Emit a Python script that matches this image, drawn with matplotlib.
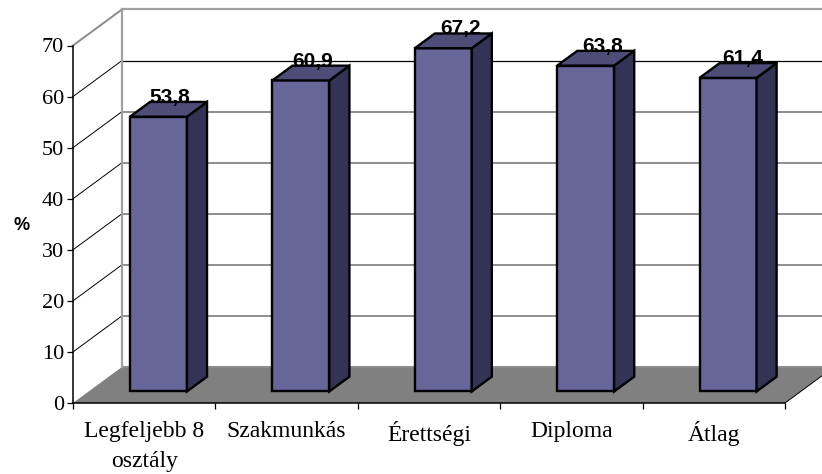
import matplotlib
matplotlib.use("Agg")
import matplotlib.pyplot as plt
from matplotlib.patches import Polygon

categories = ['Legfeljebb 8\nosztály', 'Szakmunkás', 'Érettségi', 'Diploma', 'Átlag']
values = [53.8, 60.9, 67.2, 63.8, 61.4]
labels = ['53,8', '60,9', '67,2', '63,8', '61,4']
yticks = [0, 10, 20, 30, 40, 50, 60, 70]

W, H = 822, 474
# depth of the fake 3d box, in data units
DX = 49 / 142.4
DY = 36 / 5.1

fig = plt.figure(figsize=(W / 100, H / 100), dpi=100)
ax = fig.add_axes([73 / W, 1 - 403 / H, 712 / W, 357.5 / H])
ax.set_xlim(0, 5)
ax.set_ylim(0, 70)


def proj(x, y, d=0.0):
    return (x + DX * d, y + DY * d)


def poly(pts, fc, ec='none', lw=0, z=1):
    ax.add_patch(Polygon(pts, closed=True, facecolor=fc, edgecolor=ec, linewidth=lw,
                         joinstyle='miter', clip_on=False, zorder=z))


def line(a, b, color, lw, z=2):
    ax.plot([a[0], b[0]], [a[1], b[1]], color=color, lw=lw, clip_on=False, zorder=z,
            solid_capstyle='projecting')


xr = 5.26  # back wall runs off the figure edge

# floor
poly([proj(0, 0), proj(5, 0), proj(5, 0, 1), proj(xr, 0, 1), proj(0, 0, 1)], '#808080', z=1)

# grid on wall and side wall
for v in yticks[1:-1]:
    c = 'black' if v >= 60 else '#707070'
    lw = 0.9 if v >= 60 else 1.1
    line(proj(0, v), proj(0, v, 1), 'black', 0.7)
    line(proj(0, v, 1), proj(xr, v, 1), c, lw)
line(proj(0, 0, 1), proj(xr, 0, 1), '#8c8c8c', 1.4)
line(proj(0, 70), proj(0, 70, 1), '#8c8c8c', 1.4)
line(proj(0, 70, 1), proj(xr, 70, 1), '#a0a0a0', 1.6)
line(proj(0, 0, 1), proj(0, 70, 1), '#a0a0a0', 1.6)
line(proj(5, 0), proj(5, 0, 1), 'black', 0.7)

# bars
d0, d1 = 0.32, 0.73
bw = 0.4
label_shift = [-0.8, 0, 3.6, 3.6, 1.4]
for i, v in enumerate(values):
    x0 = i + 0.5 - bw / 2 - 0.01
    x1 = x0 + bw
    poly([proj(x0, 0, d0), proj(x1, 0, d0), proj(x1, v, d0), proj(x0, v, d0)],
         '#666699', 'black', 1.7, z=3)
    poly([proj(x1, 0, d0), proj(x1, 0, d1), proj(x1, v, d1), proj(x1, v, d0)],
         '#333355', 'black', 1.7, z=3)
    poly([proj(x0, v, d0), proj(x1, v, d0), proj(x1, v, d1), proj(x0, v, d1)],
         '#4d4d77', 'black', 1.7, z=3)
    ax.annotate(labels[i], xy=proj((x0 + x1) / 2 - 0.055, v, d1),
                xytext=(label_shift[i], -3.5), textcoords='offset points',
                ha='center', va='bottom', fontsize=15, fontweight='bold',
                family='Liberation Sans', color='black', zorder=5,
                annotation_clip=False)

# axes
for s in ['top', 'right']:
    ax.spines[s].set_visible(False)
for s in ['left', 'bottom']:
    ax.spines[s].set_linewidth(1.1)
    ax.spines[s].set_zorder(4)
ax.patch.set_alpha(0)
ax.set_yticks(yticks)
ax.set_yticklabels([str(v) for v in yticks], family='Liberation Serif', fontsize=16)
ax.set_xticks(range(6))
ax.set_xticklabels([])
ax.tick_params(axis='both', length=4.5, width=0.9, pad=2)
for i, c in enumerate(categories):
    ax.annotate(c, xy=(i + 0.5, 0), xytext=(0, -13), textcoords='offset points',
                ha='center', va='top', family='Liberation Serif', fontsize=17,
                linespacing=1.55, annotation_clip=False)
fig.text(21.5 / W, 1 - 226 / H, '%', ha='center', va='center', fontsize=13,
         fontweight='bold', family='Liberation Sans')

fig.savefig('out.png', dpi=100)
